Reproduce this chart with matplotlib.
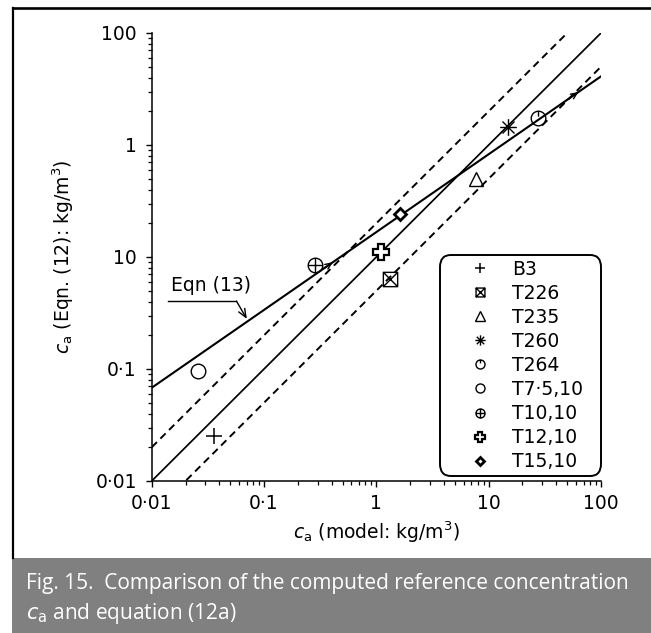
import numpy as np
import matplotlib
matplotlib.use("Agg")
import matplotlib.pyplot as plt
from matplotlib.path import Path
from matplotlib.patches import Rectangle
from matplotlib.lines import Line2D
from matplotlib.ticker import FixedLocator, FixedFormatter, LogLocator, NullFormatter

plt.rcParams['font.family'] = ['DejaVu Sans']
plt.rcParams['mathtext.fontset'] = 'dejavusans'

# ---- data -------------------------------------------------------------
series = ['B3', 'T226', 'T235', 'T260', 'T264', 'T7·5,10', 'T10,10', 'T12,10', 'T15,10']
ca_model = [0.036, 1.33, 7.7, 14.8, 27.5, 0.026, 0.283, 1.09, 1.62]
ca_eqn12 = [0.025, 0.64, 5.0, 14.5, 17.6, 0.095, 0.85, 1.10, 2.40]

line_x = [0.01, 100.0]
eqn13_y = [0.068, 41.0]
parity_factors = [1.0, 2.0, 0.5]          # y = x and a factor of two either side

x_ticks = [0.01, 0.1, 1, 10, 100]
x_ticklabels = ['0·01', '0·1', '1', '10', '100']
y_ticks = [0.01, 0.1, 1, 10, 100]
y_ticklabels = ['0·01', '0·1', '10', '1', '100']

FS = 13.5

# ---- custom marker shapes ---------------------------------------------
M, L, C = Path.MOVETO, Path.LINETO, Path.CLOSEPOLY
circ = Path.unit_circle()

boxed_x = Path([(-1, -1), (1, -1), (1, 1), (-1, 1), (-1, -1),
                (-1, -1), (1, 1), (-1, 1), (1, -1)],
               [M, L, L, L, C, M, L, M, L])
star8 = Path([(0, -1), (0, 1), (-1, 0), (1, 0),
              (-0.72, -0.72), (0.72, 0.72), (-0.72, 0.72), (0.72, -0.72)],
             [M, L, M, L, M, L, M, L])
circ_tick = Path.make_compound_path(circ, Path([(0, 1), (0, 0.25)], [M, L]))
circ_plus = Path.make_compound_path(circ, Path([(-1, 0), (1, 0), (0, -1), (0, 1)],
                                               [M, L, M, L]))

styles = {
    'B3':      dict(marker='+', ms=11, mew=1.1),
    'T226':    dict(marker=boxed_x, ms=10.3, mew=1.0, mfc='none'),
    'T235':    dict(marker='^', ms=10.5, mew=1.0, mfc='none'),
    'T260':    dict(marker=star8, ms=12, mew=1.0, mfc='none'),
    'T264':    dict(marker=circ_tick, ms=10.5, mew=1.0, mfc='none'),
    'T7·5,10': dict(marker='o', ms=10.5, mew=1.0, mfc='none'),
    'T10,10':  dict(marker=circ_plus, ms=10.5, mew=1.0, mfc='none'),
    'T12,10':  dict(marker='P', ms=11, mew=1.6, mfc='white'),
    'T15,10':  dict(marker='D', ms=6.3, mew=2.0, mfc='white'),
}

# ---- figure -----------------------------------------------------------
W, H = 651, 633
fig = plt.figure(figsize=(W / 100, H / 100), dpi=100)
ax_l, ax_r, ax_t, ax_b = 151.7, 601.0, 33.0, 481.0
ax = fig.add_axes([ax_l / W, 1 - ax_b / H, (ax_r - ax_l) / W, (ax_b - ax_t) / H])
ax.set_xscale('log')
ax.set_yscale('log')
ax.set_xlim(0.01, 100)
ax.set_ylim(0.01, 100)

lx = np.array(line_x)
for f in parity_factors:
    if f == 1.0:
        ax.plot(lx, f * lx, color='black', lw=1.25, ls='-', zorder=2)
    else:
        ax.plot(lx, f * lx, color='black', lw=1.4, ls=(0, (3.8, 2.5)), zorder=2)
ax.plot(line_x, eqn13_y, color='black', lw=1.5, zorder=2)

# direction marks along the Eqn (13) line
for xa in [0.41, 63.0]:
    la = np.log10(xa)
    ya = 10 ** np.interp(la, np.log10(line_x), np.log10(eqn13_y))
    xb = 10 ** (la - 0.08)
    yb = 10 ** np.interp(la - 0.08, np.log10(line_x), np.log10(eqn13_y))
    ax.annotate('', xy=(xa, ya), xytext=(xb, yb),
                arrowprops=dict(arrowstyle='->,head_length=0.45,head_width=0.2',
                                color='black', lw=1.0, shrinkA=0, shrinkB=0))

for name, xm, ye in zip(series, ca_model, ca_eqn12):
    ax.plot([xm], [ye], ls='none', color='black', mec='black', label=name,
            zorder=3, **styles[name])

# Eqn (13) call-out
ax.text(0.0339, 0.562, 'Eqn (13)', fontsize=FS, ha='center', va='center')
ax.plot([0.0140, 0.0568], [0.404, 0.404], color='black', lw=1.0)
ax.annotate('', xy=(0.0703, 0.28), xytext=(0.0568, 0.404),
            arrowprops=dict(arrowstyle='->,head_length=0.6,head_width=0.25',
                            color='black', lw=1.0, shrinkA=0, shrinkB=0))

# axes styling
for s in ['top', 'right']:
    ax.spines[s].set_visible(False)
for s in ['left', 'bottom']:
    ax.spines[s].set_linewidth(1.1)

ax.xaxis.set_major_locator(FixedLocator(x_ticks))
ax.xaxis.set_major_formatter(FixedFormatter(x_ticklabels))
ax.yaxis.set_major_locator(FixedLocator(y_ticks))
ax.yaxis.set_major_formatter(FixedFormatter(y_ticklabels))
for a in (ax.xaxis, ax.yaxis):
    a.set_minor_locator(LogLocator(base=10, subs=np.arange(2, 10)))
    a.set_minor_formatter(NullFormatter())
ax.tick_params(which='major', direction='out', length=4.2, width=1.0,
               labelsize=FS)
ax.tick_params(axis='x', which='major', pad=5.0)
ax.tick_params(axis='y', which='major', pad=6.5)
ax.tick_params(which='minor', direction='out', length=3.0, width=0.9)

ax.set_xlabel(r'$c_{\mathrm{a}}$ (model: kg/m$^3$)', fontsize=FS)
ax.set_ylabel(r'$c_{\mathrm{a}}$ (Eqn. (12): kg/m$^3$)', fontsize=FS)
ax.xaxis.label.set_va('center')
ax.xaxis.set_label_coords(0.5, (ax_b - 532) / (ax_b - ax_t))
ax.yaxis.set_label_coords((76 - ax_l) / (ax_r - ax_l), 0.5)

leg_x0 = (440 - ax_l) / (ax_r - ax_l)
leg = ax.legend(loc='lower left',
                bbox_to_anchor=(leg_x0, (ax_b - 475.5) / (ax_b - ax_t), 1 - leg_x0, 0.1),
                mode='expand', fontsize=FS,
                frameon=True, fancybox=True, edgecolor='black', framealpha=1,
                markerscale=0.62, handlelength=3.8, handletextpad=-0.2,
                labelspacing=0.27, borderpad=0.23, borderaxespad=0.0)
fr = leg.get_frame()
fr.set_linewidth(1.4)
fr.set_boxstyle('round,pad=0,rounding_size=0.6')
leg.set_zorder(5)

# figure frame and caption panel
cap_top = (H - 558) / H
fig.add_artist(Line2D([12.7 / W, 1.0], [1 - 8.3 / H, 1 - 8.3 / H],
                      transform=fig.transFigure, color='black', lw=1.9))
fig.add_artist(Line2D([12.7 / W, 12.7 / W], [1 - 8.3 / H, cap_top],
                      transform=fig.transFigure, color='black', lw=1.6))
fig.add_artist(Rectangle((12.0 / W, 0.0), 1.0 - 12.0 / W, cap_top,
                         transform=fig.transFigure, facecolor='#808080',
                         edgecolor='none'))
cap_font = ['Open Sans', 'DejaVu Sans']
fig.text(26 / W, 1 - 584 / H, 'Fig. 15.  Comparison of the computed reference concentration',
         color='white', fontsize=15.0, family=cap_font, ha='left', va='center')
fig.text(26 / W, 1 - 614 / H, r'$c_{\mathrm{a}}$ and equation (12a)',
         color='white', fontsize=15.0, family=cap_font, ha='left', va='center')

fig.savefig('out.png', dpi=100)
